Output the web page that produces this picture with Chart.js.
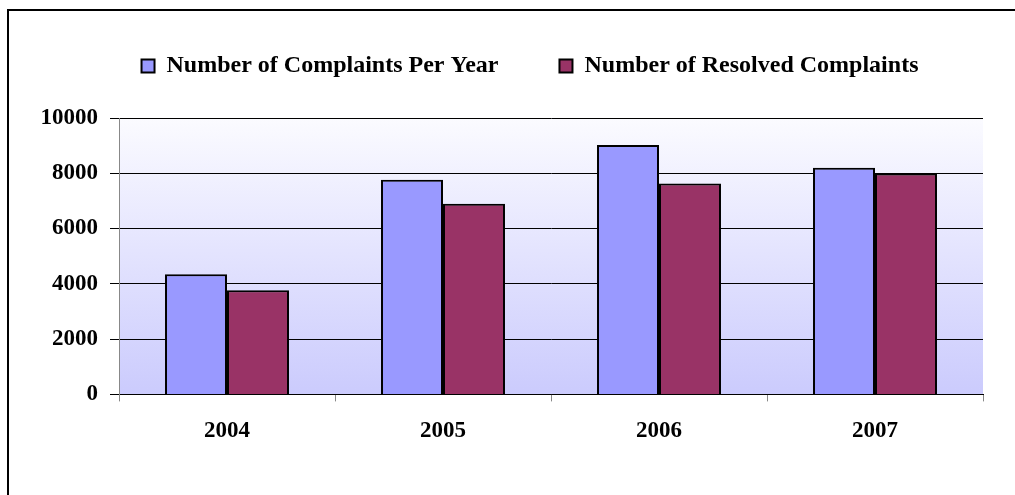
<!DOCTYPE html>
<html><head><meta charset="utf-8">
<script src="https://cdn.jsdelivr.net/npm/chart.js@4/dist/chart.umd.min.js"></script>
<style>html,body{margin:0;padding:0;background:#fff;overflow:hidden}#wrap{position:relative;width:1015px;height:495px}</style>
</head><body><div id="wrap"><canvas id="c" width="1015" height="495"></canvas></div>
<script>
const categories = ['2004', '2005', '2006', '2007'];
const complaintsPerYear = [4350, 7770, 9020, 8200];
const resolvedComplaints = [3770, 6900, 7630, 7990];
const seriesNames = ['Number of Complaints Per Year', 'Number of Resolved Complaints'];
const yTicks = [0, 2000, 4000, 6000, 8000, 10000];

const FONT = 'Liberation Serif, Times New Roman, serif';

const bgPlugin = {
  id: 'bg',
  beforeDraw(chart) {
    const ctx = chart.ctx, a = chart.chartArea;
    ctx.save();
    ctx.fillStyle = '#fff';
    ctx.fillRect(0, 0, chart.width, chart.height);
    const g = ctx.createLinearGradient(0, a.top, 0, a.bottom);
    g.addColorStop(0, '#fbfbff');
    g.addColorStop(1, '#cbcbfd');
    ctx.fillStyle = g;
    ctx.fillRect(a.left, a.top, a.right - a.left, a.bottom - a.top);
    ctx.restore();
  },
  beforeDatasetsDraw(chart) {
    const ctx = chart.ctx;
    ctx.save();
    ctx.shadowColor = 'rgba(0,0,0,0.35)';
    ctx.shadowOffsetX = 1.5;
    ctx.shadowOffsetY = 1.5;
    ctx.shadowBlur = 1.5;
  },
  afterDatasetsDraw(chart) { chart.ctx.restore(); },
  afterDraw(chart) {
    const ctx = chart.ctx;
    ctx.save();
    ctx.strokeStyle = '#000';
    ctx.lineWidth = 2;
    ctx.strokeRect(8, 10, 3000, 3000);
    ctx.restore();
  },
  beforeUpdate(chart) {
    const lg = chart.legend;
    if (lg && !lg._patched) {
      const orig = lg.fit;
      lg.fit = function () { orig.call(this); this.height += 30; };
      lg._patched = true;
    }
  }
};

new Chart(document.getElementById('c'), {
  type: 'bar',
  data: {
    labels: categories,
    datasets: [
      { label: seriesNames[0], data: complaintsPerYear, backgroundColor: '#9999ff', borderColor: '#000', borderWidth: 2 },
      { label: seriesNames[1], data: resolvedComplaints, backgroundColor: '#993366', borderColor: '#000', borderWidth: 2 }
    ]
  },
  options: {
    responsive: false,
    animation: false,
    devicePixelRatio: 1,
    layout: { padding: { top: -7, left: 77, right: 32, bottom: 34 } },
    datasets: { bar: { categoryPercentage: 0.574, barPercentage: 1.0 } },
    plugins: {
      tooltip: { enabled: false },
      legend: {
        position: 'top',
        labels: {
          font: { family: FONT, size: 24, weight: 'bold' },
          color: '#000',
          boxWidth: 13,
          boxHeight: 13,
          padding: 61
        }
      }
    },
    scales: {
      x: {
        grid: { drawOnChartArea: false, drawTicks: true, tickLength: 7, color: '#888', offset: true },
        border: { color: '#000', width: 1 },
        ticks: { font: { family: FONT, size: 23, weight: 'bold' }, color: '#000', padding: 16 }
      },
      y: {
        min: 0, max: 10000,
        afterBuildTicks: s => { s.ticks = yTicks.map(v => ({ value: v })); },
        afterFit: s => { s.width = 42; s._computeLabelArea = () => undefined; },
        ticks: { font: { family: FONT, size: 23, weight: 'bold' }, color: '#000', padding: 12, callback: v => String(v) },
        grid: { color: '#000', tickColor: '#000', tickLength: 9, lineWidth: 1 },
        border: { color: '#888', width: 1 }
      }
    }
  },
  plugins: [bgPlugin]
});
</script>
</body></html>
